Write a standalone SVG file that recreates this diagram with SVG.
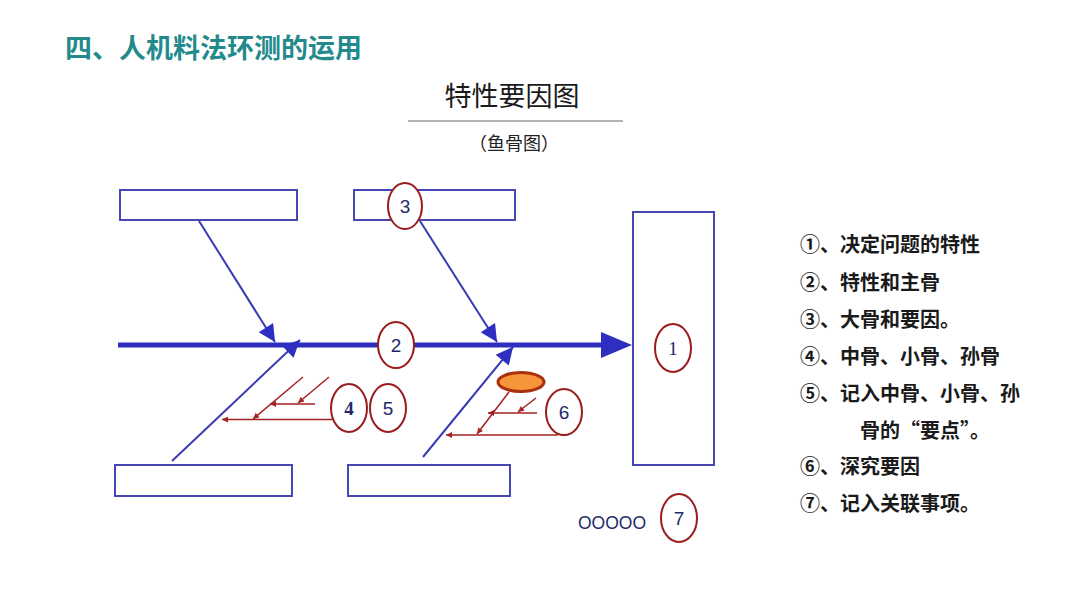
<svg xmlns="http://www.w3.org/2000/svg" width="1080" height="608" viewBox="0 0 1080 608">
<style>
.cjk{font-family:"Noto Sans CJK SC","Noto Sans",sans-serif}
.box{fill:#fff;stroke:#4646b4;stroke-width:2}
.bone{stroke:#3a3ab4;stroke-width:2;fill:none}
.red{stroke:#a52222;stroke-width:1.5;fill:none}
.ring{fill:#fff;stroke:#9b1c1c;stroke-width:2}
.num{font-family:"Liberation Sans",sans-serif;font-size:19px;fill:#1e2a6a;text-anchor:middle}
.item{font-family:"Noto Sans CJK SC",sans-serif;font-size:20px;font-weight:bold;fill:#1a1a1a}
</style>
<defs>
<marker id="ab" viewBox="0 0 10 10" refX="10" refY="5" markerWidth="20" markerHeight="17" markerUnits="userSpaceOnUse" orient="auto"><path d="M0,0L10,5L0,10z" fill="#2e2ec0"/></marker>
<marker id="ar" viewBox="0 0 10 10" refX="10" refY="5" markerWidth="8" markerHeight="6" markerUnits="userSpaceOnUse" orient="auto"><path d="M0,0L10,5L0,10z" fill="#a52222"/></marker>
</defs>
<rect width="1080" height="608" fill="#fff"/>
<text class="cjk" x="65" y="58" font-size="27" font-weight="bold" fill="#238a8c">四、人机料法环测的运用</text>
<text class="cjk" x="512" y="106" font-size="27" fill="#1a1a1a" text-anchor="middle">特性要因图</text>
<line x1="408" y1="121" x2="623" y2="121" stroke="#999" stroke-width="1.5"/>
<text class="cjk" x="514" y="150" font-size="18" fill="#222" text-anchor="middle">（鱼骨图）</text>
<g id="connectors">
<line x1="118" y1="345" x2="606" y2="345" stroke="#2e2ec0" stroke-width="5"/>
<polygon points="601,332 632,345 601,358" fill="#2e2ec0"/>
<line class="bone" x1="199" y1="221" x2="275" y2="342" marker-end="url(#ab)"/>
<line class="bone" x1="172" y1="461" x2="300" y2="340" marker-end="url(#ab)"/>
<line class="bone" x1="420" y1="221" x2="497" y2="342" marker-end="url(#ab)"/>
<line class="bone" x1="423" y1="457" x2="513" y2="347" marker-end="url(#ab)"/>
<line class="red" x1="332" y1="419.5" x2="222" y2="419.5" marker-end="url(#ar)"/>
<line class="red" x1="303" y1="377" x2="253" y2="419" marker-end="url(#ar)"/>
<line class="red" x1="315" y1="404" x2="270" y2="404" marker-end="url(#ar)"/>
<line class="red" x1="329" y1="377" x2="298" y2="403" marker-end="url(#ar)"/>
<line class="red" x1="558" y1="435" x2="446" y2="435" marker-end="url(#ar)"/>
<line class="red" x1="509" y1="392" x2="477" y2="434" marker-end="url(#ar)"/>
<line class="red" x1="537" y1="413" x2="488" y2="413" marker-end="url(#ar)"/>
<line class="red" x1="536" y1="398" x2="518" y2="412" marker-end="url(#ar)"/>
</g>
<g id="box-top-left"><rect class="box" x="120" y="190" width="177" height="30"/></g>
<g id="box-top-mid"><rect class="box" x="354" y="190" width="161" height="30"/></g>
<g id="box-bottom-left"><rect class="box" x="115" y="465" width="177" height="31"/></g>
<g id="box-bottom-mid"><rect class="box" x="348" y="465" width="162" height="31"/></g>
<g id="box-effect"><rect class="box" x="633" y="212" width="81" height="253"/></g>
<g id="oval"><ellipse cx="521" cy="382" rx="23" ry="9.5" fill="#f7953a" stroke="#a8300e" stroke-width="3"/></g>
<g id="c1"><ellipse class="ring" cx="673" cy="348" rx="18" ry="24"/><text class="num" x="673" y="355" style="font-family:'Liberation Serif',serif">1</text></g>
<g id="c2"><ellipse class="ring" cx="396" cy="345" rx="18" ry="23"/><text class="num" x="396" y="352">2</text></g>
<g id="c3"><ellipse class="ring" cx="405" cy="206" rx="17" ry="23"/><text class="num" x="405" y="213">3</text></g>
<g id="c4"><ellipse class="ring" cx="349" cy="408" rx="18" ry="24"/><text class="num" x="349" y="415" style="font-family:'Liberation Serif',serif;font-weight:bold">4</text></g>
<g id="c5"><ellipse class="ring" cx="388" cy="408" rx="18" ry="24"/><text class="num" x="388" y="415">5</text></g>
<g id="c6"><ellipse class="ring" cx="564" cy="412" rx="18" ry="23"/><text class="num" x="564" y="419">6</text></g>
<g id="c7"><ellipse class="ring" cx="679" cy="518" rx="18" ry="24"/><text class="num" x="679" y="525">7</text></g>
<text x="578" y="529" font-family="Liberation Sans,sans-serif" font-size="17.5" fill="#1e2a6a">OOOOO</text>
<g id="legend">
<text class="item" x="800" y="252">①、决定问题的特性</text>
<text class="item" x="800" y="290">②、特性和主骨</text>
<text class="item" x="800" y="327">③、大骨和要因。</text>
<text class="item" x="800" y="364">④、中骨、小骨、孙骨</text>
<text class="item" x="800" y="401">⑤、记入中骨、小骨、孙</text>
<text class="item" x="860" y="438">骨的“要点”。</text>
<text class="item" x="800" y="474">⑥、深究要因</text>
<text class="item" x="800" y="511">⑦、记入关联事项。</text>
</g>
</svg>
